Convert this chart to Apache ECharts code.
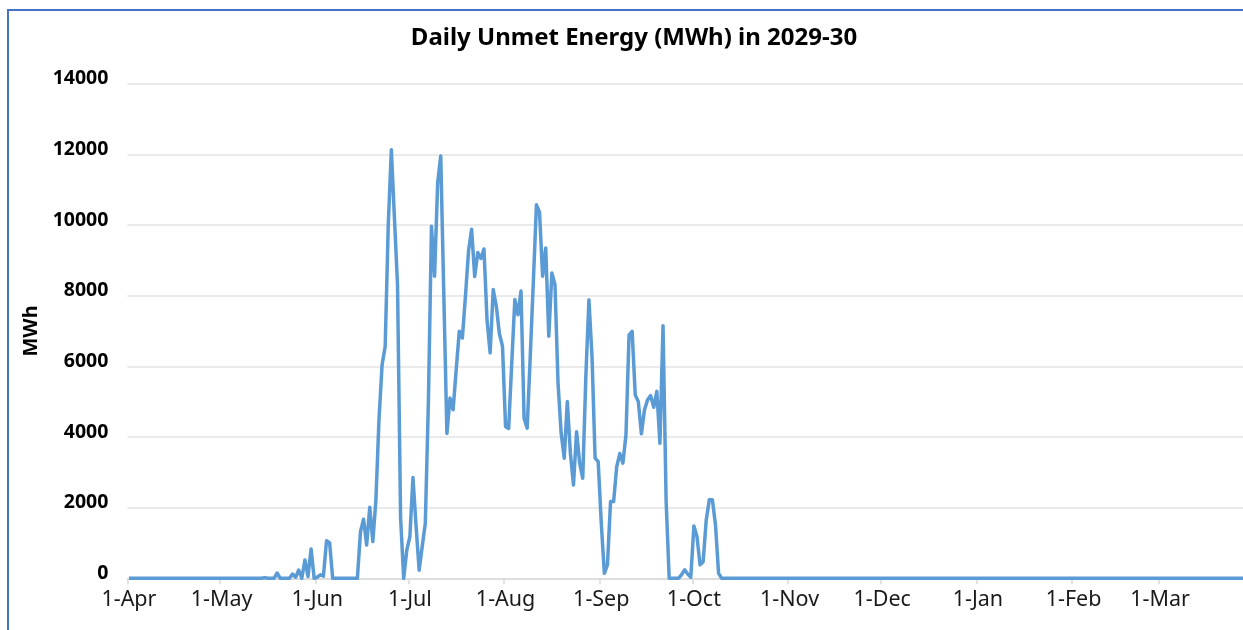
<!DOCTYPE html>
<html>
<head>
<meta charset="utf-8">
<script src="https://cdn.jsdelivr.net/npm/echarts@6/dist/echarts.min.js"></script>
<style>
  html, body { margin: 0; padding: 0; background: #fff; }
  #wrap { position: relative; width: 1243px; height: 630px; overflow: hidden; }
  /* chart is a little wider than the picture: the original is cut off on the right */
  #chart { position: absolute; left: 0; top: 0; width: 1260px; height: 630px; }
  #frame { position: absolute; left: 7px; top: 9px; width: 1300px; height: 700px;
           border-left: 2px solid #4472C4; border-top: 2px solid #4472C4; pointer-events: none; }
</style>
</head>
<body>
<div id="wrap">
  <div id="chart"></div>
  <div id="frame"></div>
</div>
<script>
// months of the 2029-30 year, April to March
const monthNames = ['Apr', 'May', 'Jun', 'Jul', 'Aug', 'Sep', 'Oct', 'Nov', 'Dec', 'Jan', 'Feb', 'Mar'];
const monthDays = [30, 31, 30, 31, 31, 30, 31, 30, 31, 31, 28, 31];

const yTicks = [0, 2000, 4000, 6000, 8000, 10000, 12000, 14000];

// daily unmet energy (MWh), one list per month
const aprValues = [0, 0, 0, 0, 0, 0, 0, 0, 0, 0, 0, 0, 0, 0, 0, 0, 0, 0, 0, 0, 0, 0, 0, 0, 0, 0, 0, 0, 0, 0];
const mayValues = [0, 0, 0, 0, 0, 0, 0, 0, 0, 0, 0, 0, 0, 0, 20, 0, 0, 0, 150, 0, 0, 0, 0, 120, 30, 235, 0, 520, 50, 830, 0];
const junValues = [30, 100, 60, 1065, 1010, 0, 0, 0, 0, 0, 0, 0, 0, 0, 1320, 1670, 940, 2010, 1040, 2220,
                   4500, 6040, 6560, 10000, 12130, 10200, 8300, 1700, 0, 800];
const julValues = [1180, 2850, 1500, 230, 900, 1560, 5000, 9960, 8550, 11190, 11950, 8000, 4100, 5100, 4770, 5900,
                   6990, 6800, 7980, 9260, 9880, 8540, 9220, 9050, 9320, 7300, 6380, 8170, 7700, 6920, 6570];
const augValues = [4290, 4240, 6090, 7890, 7460, 8130, 4520, 4250, 6300, 8400, 10570, 10360, 8550, 9350, 6850, 8640,
                   8310, 5520, 4110, 3400, 5000, 3540, 2640, 4150, 3260, 2830, 5710, 7880, 6280, 3400, 3300];
const sepValues = [1560, 140, 380, 2170, 2170, 3160, 3530, 3260, 4060, 6890, 6990, 5190, 5000, 4090, 4770, 5050,
                   5170, 4840, 5290, 3820, 7150, 2200, 0, 0, 0, 0, 100, 240, 120, 30];
const octValues = [1480, 1180, 380, 470, 1650, 2220, 2220, 1510, 140, 0, 0, 0, 0, 0, 0, 0, 0, 0, 0, 0, 0, 0, 0, 0, 0, 0, 0, 0, 0, 0, 0];
const novValues = [0, 0, 0, 0, 0, 0, 0, 0, 0, 0, 0, 0, 0, 0, 0, 0, 0, 0, 0, 0, 0, 0, 0, 0, 0, 0, 0, 0, 0, 0];
const decValues = [0, 0, 0, 0, 0, 0, 0, 0, 0, 0, 0, 0, 0, 0, 0, 0, 0, 0, 0, 0, 0, 0, 0, 0, 0, 0, 0, 0, 0, 0, 0];
const janValues = [0, 0, 0, 0, 0, 0, 0, 0, 0, 0, 0, 0, 0, 0, 0, 0, 0, 0, 0, 0, 0, 0, 0, 0, 0, 0, 0, 0, 0, 0, 0];
const febValues = [0, 0, 0, 0, 0, 0, 0, 0, 0, 0, 0, 0, 0, 0, 0, 0, 0, 0, 0, 0, 0, 0, 0, 0, 0, 0, 0, 0];
const marValues = [0, 0, 0, 0, 0, 0, 0, 0, 0, 0, 0, 0, 0, 0, 0, 0, 0, 0, 0, 0, 0, 0, 0, 0, 0, 0, 0, 0, 0, 0, 0];

const values = [].concat(aprValues, mayValues, junValues, julValues, augValues, sepValues,
                         octValues, novValues, decValues, janValues, febValues, marValues);

// day labels like "1-Apr", "2-Apr", ...
let days = [];
monthNames.forEach((m, i) => {
  for (let d = 1; d <= monthDays[i]; d++) days.push(d + '-' + m);
});

const isMonthStart = (idx, val) => val.indexOf('1-') === 0;

let chart = echarts.init(document.getElementById('chart'), null, { renderer: 'canvas' });

let option = {
  animation: false,
  backgroundColor: '#fff',
  title: {
    text: 'Daily Unmet Energy (MWh) in 2029-30',
    left: 629,
    top: 21,
    textAlign: 'center',
    textStyle: { fontFamily: 'Noto Sans', fontSize: 24, fontWeight: 'bold', color: '#000' }
  },
  grid: { left: 127.4, right: 5.8, top: 83.6, bottom: 51.7, containLabel: false },
  xAxis: {
    type: 'category',
    data: days,
    boundaryGap: true,
    axisLine: { show: true, lineStyle: { color: '#d9d9d9', width: 1.5 } },
    axisTick: { show: true, interval: isMonthStart, length: 6, lineStyle: { color: '#d9d9d9', width: 1.5 } },
    axisLabel: {
      interval: isMonthStart,
      margin: 11,
      fontFamily: 'Noto Sans',
      fontSize: 21.5,
      color: '#1a1a1a'
    },
    splitLine: { show: false }
  },
  yAxis: {
    type: 'value',
    min: yTicks[0],
    max: yTicks[yTicks.length - 1],
    interval: 2000,
    name: 'MWh',
    nameLocation: 'middle',
    nameGap: 85,
    nameTextStyle: { fontFamily: 'Noto Sans', fontSize: 20, fontWeight: 'bold', color: '#000' },
    axisLine: { show: false },
    axisTick: { show: false },
    axisLabel: {
      margin: 19,
      fontFamily: 'Noto Sans',
      fontSize: 19.5,
      fontWeight: 'bold',
      color: '#000',
      verticalAlign: 'bottom',
      lineHeight: 10,
      formatter: v => String(v)
    },
    splitLine: { show: true, lineStyle: { color: '#e3e3e3', width: 1.5 } }
  },
  series: [
    {
      name: 'Unmet Energy',
      type: 'line',
      data: values,
      showSymbol: false,
      symbol: 'none',
      lineStyle: { color: '#5B9BD5', width: 3.5, join: 'round' },
      itemStyle: { color: '#5B9BD5' }
    }
  ]
};

chart.setOption(option);
</script>
</body>
</html>
